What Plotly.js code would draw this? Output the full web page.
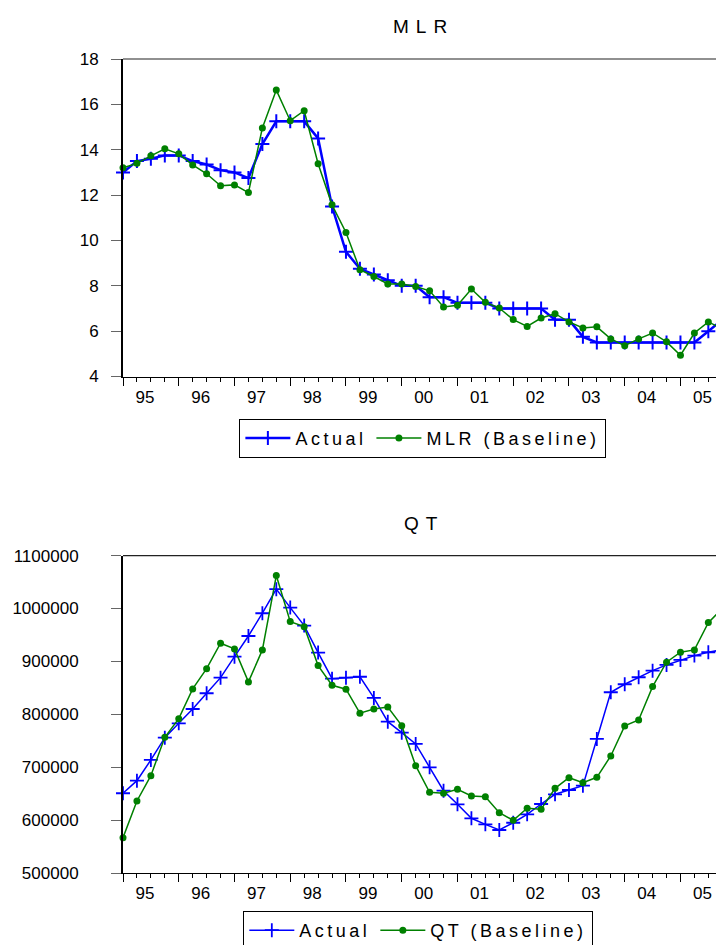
<!DOCTYPE html>
<html>
<head>
<meta charset="utf-8">
<script src="https://cdn.plot.ly/plotly-3.0.1.min.js"></script>
<style>
html, body { margin: 0; padding: 0; background: #fff; overflow: hidden; }
#chart { width: 716px; height: 960px; }
.legendtext, text[class*="legend"], g[class*="legend"] text { letter-spacing: 3.5px; }
.annotation-text { letter-spacing: 7px; }
</style>
</head>
<body>
<div id="chart"></div>
<script>
const quarters = [
  "1995Q1","1995Q2","1995Q3","1995Q4","1996Q1","1996Q2","1996Q3","1996Q4",
  "1997Q1","1997Q2","1997Q3","1997Q4","1998Q1","1998Q2","1998Q3","1998Q4",
  "1999Q1","1999Q2","1999Q3","1999Q4","2000Q1","2000Q2","2000Q3","2000Q4",
  "2001Q1","2001Q2","2001Q3","2001Q4","2002Q1","2002Q2","2002Q3","2002Q4",
  "2003Q1","2003Q2","2003Q3","2003Q4","2004Q1","2004Q2","2004Q3","2004Q4",
  "2005Q1","2005Q2","2005Q3","2005Q4"
];
const yearTickQuarters = ["1995Q1","1996Q1","1997Q1","1998Q1","1999Q1","2000Q1","2001Q1","2002Q1","2003Q1","2004Q1","2005Q1"];
const yearTickLabels = ["95","96","97","98","99","00","01","02","03","04","05"];

const mlrActual = [13.0, 13.5, 13.6, 13.75, 13.75, 13.5, 13.35, 13.1, 13.0, 12.75, 14.25, 15.25,
  15.25, 15.25, 14.5, 11.5, 9.5, 8.75, 8.5, 8.25, 8.0, 8.0, 7.5, 7.5,
  7.25, 7.25, 7.25, 7.0, 7.0, 7.0, 7.0, 6.5, 6.5, 5.75, 5.5, 5.5,
  5.5, 5.5, 5.5, 5.5, 5.5, 5.5, 6.0, 6.5];
const mlrBaseline = [13.2, 13.4, 13.73, 14.04, 13.82, 13.33, 12.94, 12.41, 12.45, 12.11, 14.96, 16.63,
  15.28, 15.72, 13.38, 11.57, 10.35, 8.71, 8.41, 8.08, 8.08, 7.97, 7.78, 7.07,
  7.14, 7.86, 7.27, 7.02, 6.51, 6.21, 6.58, 6.77, 6.41, 6.14, 6.19, 5.66,
  5.36, 5.66, 5.92, 5.53, 4.94, 5.92, 6.41, 6.1];

const qtActual = [650700, 674500, 713700, 755800, 783000, 810000, 839800, 869300, 909000, 948000, 991000, 1036500,
  1001700, 967600, 916600, 867400, 869300, 871000, 830900, 786000, 765300, 743900, 699800, 655600,
  629900, 603400, 592000, 581300, 595000, 611000, 630400, 648800, 656900, 665000, 753400, 841700,
  856800, 870000, 882500, 893300, 902800, 910900, 917300, 922000];
const qtBaseline = [566700, 636100, 684000, 756600, 791800, 847900, 886300, 934300, 923600, 861200, 921700, 1062200,
  975200, 965700, 892000, 854900, 847400, 802000, 810100, 813900, 778500, 702900, 652600, 650700,
  658200, 645600, 644300, 614000, 599600, 622300, 620400, 660100, 680200, 670700, 680900, 721200,
  778000, 789300, 852300, 898400, 917300, 921700, 973300, 1000000];

const xIdx = quarters.map((q, i) => i);
const tickIdx = yearTickQuarters.map(q => quarters.indexOf(q));

const FONT = "'Liberation Sans', Arial, Helvetica, sans-serif";
const BLUE = "#0000FF", GREEN = "#008000";

const traces = [
  { x: xIdx, y: mlrActual, name: "Actual", type: "scatter", mode: "lines+markers",
    xaxis: "x", yaxis: "y", legend: "legend", cliponaxis: false,
    line: { color: BLUE, width: 2.5 },
    marker: { symbol: "cross-thin", size: 10, line: { color: BLUE, width: 2 } } },
  { x: xIdx, y: mlrBaseline, name: "MLR (Baseline)", type: "scatter", mode: "lines+markers",
    xaxis: "x", yaxis: "y", legend: "legend", cliponaxis: false,
    line: { color: GREEN, width: 1.5 },
    marker: { symbol: "circle", size: 7, color: GREEN } },
  { x: xIdx, y: qtActual, name: "Actual", type: "scatter", mode: "lines+markers",
    xaxis: "x2", yaxis: "y2", legend: "legend2", cliponaxis: false,
    line: { color: BLUE, width: 1.5 },
    marker: { symbol: "cross-thin", size: 10, line: { color: BLUE, width: 1.8 } } },
  { x: xIdx, y: qtBaseline, name: "QT (Baseline)", type: "scatter", mode: "lines+markers",
    xaxis: "x2", yaxis: "y2", legend: "legend2", cliponaxis: false,
    line: { color: GREEN, width: 1.5 },
    marker: { symbol: "circle", size: 7, color: GREEN } }
];

function xAxis(anchor) {
  return {
    anchor: anchor, domain: [0, 1], range: [0, 42.55],
    tickmode: "array", tickvals: tickIdx, ticktext: yearTickLabels,
    ticks: "outside", ticklen: 8, tickwidth: 1, tickcolor: "#000",
    ticklabelshift: 22, ticklabelstandoff: -3,
    minor: { dtick: 1, tick0: 0, ticks: "outside", ticklen: 4, tickwidth: 1, tickcolor: "#000" },
    showline: true, linecolor: "#000", linewidth: 1,
    showgrid: false, zeroline: false,
    tickfont: { family: FONT, size: 17, color: "#000" },
    fixedrange: true
  };
}

const layout = {
  width: 716, height: 960,
  margin: { l: 123.3, r: 0, t: 59.3, b: 87, pad: 0 },
  paper_bgcolor: "#fff", plot_bgcolor: "#fff",
  font: { family: FONT, color: "#000" },
  xaxis: xAxis("y"),
  xaxis2: xAxis("y2"),
  yaxis: {
    domain: [0.6099, 1], range: [4, 18], dtick: 2, tick0: 0,
    ticks: "outside", ticklen: 10, tickwidth: 1, tickcolor: "#666",
    showline: true, linecolor: "#000", linewidth: 2,
    showgrid: false, zeroline: false,
    ticklabelstandoff: 9,
    tickfont: { family: FONT, size: 17, color: "#000" }
  },
  yaxis2: {
    domain: [0, 0.38995], range: [500000, 1100000], dtick: 100000, tick0: 0,
    tickformat: "d",
    ticks: "outside", ticklen: 10, tickwidth: 1, tickcolor: "#666",
    showline: true, linecolor: "#000", linewidth: 2,
    showgrid: false, zeroline: false,
    ticklabelstandoff: 29,
    tickfont: { family: FONT, size: 17, color: "#000" }
  },
  shapes: [
    { type: "line", xref: "paper", yref: "y domain", x0: 0, x1: 1, y0: 1, y1: 1,
      line: { color: "#222", width: 1.2 } },
    { type: "line", xref: "paper", yref: "y2 domain", x0: 0, x1: 1, y0: 1, y1: 1,
      line: { color: "#222", width: 1.2 } }
  ],
  annotations: [
    { text: "MLR", xref: "paper", yref: "paper", x: 0.5063, y: 1.0401,
      xanchor: "center", yanchor: "middle", showarrow: false,
      font: { family: FONT, size: 19, color: "#000" } },
    { text: "QT", xref: "paper", yref: "paper", x: 0.5082, y: 0.4295,
      xanchor: "center", yanchor: "middle", showarrow: false,
      font: { family: FONT, size: 19, color: "#000" } }
  ],
  showlegend: true,
  legend: {
    orientation: "h", x: 0.5057, xanchor: "center", y: 0.5580, yanchor: "top",
    bordercolor: "#000", borderwidth: 1, bgcolor: "#fff",
    itemwidth: 45, font: { family: FONT, size: 18, color: "#000" }
  },
  legend2: {
    orientation: "h", x: 0.498, xanchor: "center", y: -0.0467, yanchor: "top",
    bordercolor: "#000", borderwidth: 1, bgcolor: "#fff",
    itemwidth: 45, font: { family: FONT, size: 18, color: "#000" }
  }
};

Plotly.newPlot("chart", traces, layout, { displayModeBar: false, staticPlot: true });
</script>
</body>
</html>
